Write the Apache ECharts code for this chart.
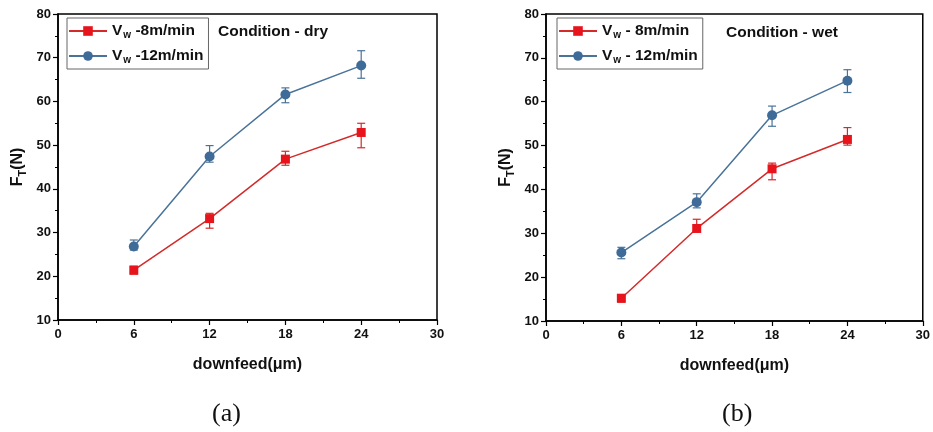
<!DOCTYPE html>
<html><head><meta charset="utf-8">
<script src="https://cdn.jsdelivr.net/npm/echarts@6/dist/echarts.min.js"></script>
<style>html,body{margin:0;padding:0;background:#fff}#c{width:933px;height:432px}</style>
</head><body><div id="c"></div>
<script>
const xVals = [6, 12, 18, 24];
const xTicks = [0, 6, 12, 18, 24, 30];
const yTicks = [10, 20, 30, 40, 50, 60, 70, 80];

const dry8 = [21.4, 33.2, 46.8, 52.9];
const dry8Low = [20.5, 31.0, 45.4, 49.4];
const dry8High = [22.3, 34.4, 48.6, 55.0];
const dry12 = [26.8, 47.4, 61.6, 68.2];
const dry12Low = [26.0, 46.1, 59.7, 65.3];
const dry12High = [28.3, 49.9, 63.1, 71.6];

const wet8 = [15.2, 31.1, 44.7, 51.4];
const wet8Low = [14.3, 30.5, 42.2, 50.1];
const wet8High = [16.0, 33.2, 46.0, 54.1];
const wet12 = [25.6, 37.1, 56.9, 64.8];
const wet12Low = [24.2, 35.8, 54.4, 62.1];
const wet12High = [26.8, 39.0, 59.0, 67.3];

const legendDry = ['Vw -8m/min', 'Vw -12m/min'];
const legendWet = ['Vw - 8m/min', 'Vw - 12m/min'];
const titles = ['Condition - dry', 'Condition - wet'];
const captions = ['(a)', '(b)'];

const RED = '#e8141c', BLUE = '#3f6b98';
const RED_L = '#d42a2a', BLUE_L = '#4a7399';
const FONT = 'Liberation Sans, Arial';

const chart = echarts.init(document.getElementById('c'), null, {renderer: 'canvas'});

const grids = [
  {left: 58, top: 14, width: 379, height: 306},
  {left: 546, top: 14, width: 380, height: 307}
];

function pts(v) { return xVals.map((x, i) => [x, v[i]]); }
function errs(lo, hi) { return xVals.map((x, i) => [x, lo[i], hi[i]]); }

function errSeries(idx, lo, hi, color) {
  return {
    type: 'custom', xAxisIndex: idx, yAxisIndex: idx, z: 3,
    data: errs(lo, hi),
    renderItem: function (params, api) {
      const x = api.value(0);
      const a = api.coord([x, api.value(1)]);
      const b = api.coord([x, api.value(2)]);
      const w = 4;
      const st = {stroke: color, lineWidth: 1.2, fill: null};
      return {type: 'group', children: [
        {type: 'line', shape: {x1: a[0], y1: a[1], x2: b[0], y2: b[1]}, style: st},
        {type: 'line', shape: {x1: a[0] - w, y1: a[1], x2: a[0] + w, y2: a[1]}, style: st},
        {type: 'line', shape: {x1: b[0] - w, y1: b[1], x2: b[0] + w, y2: b[1]}, style: st}
      ]};
    },
    silent: true
  };
}

function lineSeries(idx, name, vals, color, lineColor, symbol) {
  return {
    type: 'line', name: name, xAxisIndex: idx, yAxisIndex: idx, z: 4,
    data: pts(vals), symbol: symbol, symbolSize: symbol === 'rect' ? 9 : 10,
    itemStyle: {color: color},
    lineStyle: {color: lineColor, width: 1.5},
    animation: false
  };
}

const axisText = {color: '#111', fontWeight: 'bold', fontSize: 13, fontFamily: FONT};

function xAxis(idx) {
  return {
    type: 'value', gridIndex: idx, min: 0, max: 30, interval: 6,
    axisLine: {onZero: false, lineStyle: {color: '#000', width: 1.5}},
    axisTick: {inside: false, length: 5, lineStyle: {color: '#000', width: 1.2}},
    minorTick: {show: true, splitNumber: 2, length: 3, lineStyle: {color: '#000'}},
    splitLine: {show: false},
    axisLabel: Object.assign({margin: 8}, axisText),
    name: 'downfeed(μm)', nameLocation: 'middle', nameGap: 37,
    nameTextStyle: {color: '#111', fontWeight: 'bold', fontSize: 16, fontFamily: FONT}
  };
}
function yAxis(idx) {
  return {
    type: 'value', gridIndex: idx, min: 10, max: 80, interval: 10,
    axisLine: {show: true, lineStyle: {color: '#000', width: 1.5}},
    axisTick: {show: true, inside: false, length: 5, lineStyle: {color: '#000', width: 1.2}},
    minorTick: {show: true, splitNumber: 2, length: 3, lineStyle: {color: '#000'}},
    splitLine: {show: false},
    axisLabel: Object.assign({margin: 7}, axisText),
    name: '{b|F}{s|T}{b|(N)}', nameLocation: 'middle', nameGap: 30, nameRotate: 90,
    nameTextStyle: {rich: {
      b: {color: '#111', fontWeight: 'bold', fontSize: 16, fontFamily: FONT},
      s: {color: '#111', fontWeight: 'bold', fontSize: 11, fontFamily: FONT, padding: [9, 0, 0, 0]}
    }}
  };
}

function legend(idx, names, left) {
  return {
    data: names, left: left, top: 18, orient: 'vertical', itemGap: 8,
    itemWidth: 38, itemHeight: 12,
    borderColor: '#666', borderWidth: 1, borderRadius: 0, padding: [5, 5, 4, 1],
    formatter: function (n) { return '{b|V}{s|w}{b|' + n.slice(2) + '}'; },
    textStyle: {rich: {
      b: {color: '#111', fontWeight: 'bold', fontSize: 15.5, fontFamily: FONT},
      s: {color: '#111', fontWeight: 'bold', fontSize: 10, fontFamily: FONT, padding: [8, 0, 0, 1]}
    }}
  };
}

const titleStyle = {color: '#111', fontWeight: 'bold', fontSize: 15.5, fontFamily: FONT};
const capStyle = {color: '#111', fontWeight: 'normal', fontSize: 26, fontFamily: 'Liberation Serif, Times New Roman'};

const option = {
  animation: false,
  backgroundColor: '#fff',
  grid: grids.map(g => Object.assign({show: true, borderColor: '#000', borderWidth: 1.5, containLabel: false}, g)),
  xAxis: [xAxis(0), xAxis(1)],
  yAxis: [yAxis(0), yAxis(1)],
  legend: [legend(0, legendDry, 67), legend(1, legendWet, 557)],
  title: [
    {text: titles[0], left: 213, top: 19, textStyle: titleStyle},
    {text: titles[1], left: 721, top: 20, textStyle: titleStyle},
    {text: captions[0], left: 207, top: 396, textStyle: capStyle},
    {text: captions[1], left: 717, top: 396, textStyle: capStyle}
  ],
  series: [
    errSeries(0, dry8Low, dry8High, RED_L),
    errSeries(0, dry12Low, dry12High, BLUE_L),
    lineSeries(0, legendDry[0], dry8, RED, RED_L, 'rect'),
    lineSeries(0, legendDry[1], dry12, BLUE, BLUE_L, 'circle'),
    errSeries(1, wet8Low, wet8High, RED_L),
    errSeries(1, wet12Low, wet12High, BLUE_L),
    lineSeries(1, legendWet[0], wet8, RED, RED_L, 'rect'),
    lineSeries(1, legendWet[1], wet12, BLUE, BLUE_L, 'circle')
  ]
};
chart.setOption(option);
</script></body></html>
